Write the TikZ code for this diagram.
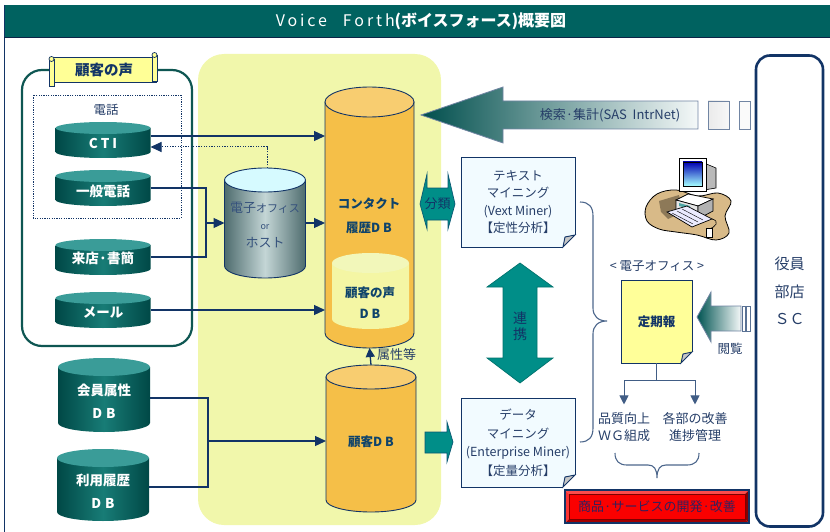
\documentclass[tikz,border=0pt]{standalone}
\usepackage{fontspec}
\setmainfont{Noto Sans CJK JP}
\newfontfamily\widelatin[LetterSpace=18]{Noto Sans CJK JP}
\usetikzlibrary{arrows.meta}

\newcommand\fs[2]{\fontsize{#1}{#2}\selectfont}

\definecolor{navy}{RGB}{18,52,102}
\definecolor{ink}{RGB}{38,62,104}
\definecolor{barteal}{RGB}{0,98,96}
\definecolor{drumdark}{RGB}{0,72,70}
\definecolor{drummid}{RGB}{24,124,118}
\definecolor{drumcap}{RGB}{58,156,152}
\definecolor{groupteal}{RGB}{14,86,82}
\definecolor{limebg}{RGB}{241,247,171}
\definecolor{amber}{RGB}{245,191,72}
\definecolor{ambercap}{RGB}{248,205,112}
\definecolor{cream}{RGB}{244,246,164}
\definecolor{creamcap}{RGB}{242,247,186}
\definecolor{slatedk}{RGB}{78,108,110}
\definecolor{slatelt}{RGB}{196,214,214}
\definecolor{icecap}{RGB}{214,250,255}
\definecolor{blockteal}{RGB}{0,142,136}
\definecolor{memo}{RGB}{242,251,255}
\definecolor{notepad}{RGB}{255,255,153}
\definecolor{scrollyel}{RGB}{255,255,150}
\definecolor{desk}{RGB}{216,186,136}
\definecolor{alertred}{RGB}{250,0,0}
\definecolor{alertink}{RGB}{52,32,92}

% cylinder: name, centre x, top y, width, height, cap half-height, body style, cap style
\newcommand\drum[8]{%
  \pgfmathsetmacro\dL{#2-#4/2}%
  \pgfmathsetmacro\dR{#2+#4/2}%
  \pgfmathsetmacro\dA{#4/2}%
  \pgfmathsetmacro\dT{#3+#6}%
  \pgfmathsetmacro\dB{#3+#5-#6}%
  \pgfmathsetmacro\dBot{#3+#5}%
  \pgfmathsetmacro\dK{0.5523*#6}%
  \pgfmathsetmacro\dKx{0.5523*#4/2}%
  \pgfmathsetmacro\dM{#3+#5/2}%
  \path[#7] (\dL,\dT) -- (\dL,\dB)
     .. controls (\dL,\dB+\dK) and (#2-\dKx,\dBot) .. (#2,\dBot)
     .. controls (#2+\dKx,\dBot) and (\dR,\dB+\dK) .. (\dR,\dB)
     -- (\dR,\dT) -- cycle;
  \path[#8] (#2,\dT) ellipse [x radius=\dA pt, y radius=#6pt];
  \node[inner sep=0pt, outer sep=0pt, minimum width=#4pt, minimum height=#5pt] (#1) at (#2,\dM) {};
}

% folded lower-right corner of a sheet node: node name, fold size
\newcommand\dogear[2]{%
  \fill[white] ([xshift=-#2pt]#1.south east) -- ([xshift=-#2pt,yshift=-1.5pt]#1.south east)
     -- ([xshift=1.5pt,yshift=-1.5pt]#1.south east) -- ([xshift=1.5pt,yshift=#2pt]#1.south east)
     -- ([yshift=#2pt]#1.south east) -- cycle;
  \draw[navy, line width=0.9pt, fill=gray!45] ([xshift=-#2pt]#1.south east) -- ([yshift=#2pt]#1.south east)
     -- ([xshift=-#2pt+2pt,yshift=#2pt-2pt]#1.south east) -- cycle;
}

\begin{document}
\begin{tikzpicture}[x=1pt, y=-1pt,
  wire/.style={draw=navy, line width=1.3pt},
  feed/.style={wire, -{Triangle[length=11pt,width=10pt]}},
  lbl/.style={text=ink, inner sep=0pt, outer sep=0pt, align=center},
  drumlbl/.style={lbl, text=white, font=\fs{13.5}{23}\bfseries},
  amberlbl/.style={lbl, text=navy!80!teal, font=\fs{12.5}{24}\bfseries},
  teal body/.style={left color=drumdark, right color=drumdark, middle color=drummid},
  teal cap/.style={fill=drumcap},
  amber body/.style={fill=amber, draw=navy, line width=0.9pt},
  amber cap/.style={fill=ambercap, draw=navy, line width=0.9pt},
  cream body/.style={fill=cream},
  cream cap/.style={fill=creamcap},
  office body/.style={left color=slatedk, right color=slatedk, middle color=slatelt, draw=navy, line width=0.9pt},
  office cap/.style={fill=icecap, draw=navy, line width=0.9pt},
  sheet/.style={rectangle, draw=navy, line width=0.9pt, inner sep=0pt, outer sep=0pt, align=center, text=ink},
  block/.style={fill=blockteal, draw=navy!60!blockteal, line width=0.7pt},
  fade/.style={draw=navy!60, line width=0.8pt, left color=barteal!80!black, middle color=barteal!35!white, right color=barteal!4!white},
]
\useasboundingbox (0,0) rectangle (830,532);

% ---- title bar and frame
\fill[barteal] (4,5) rectangle (830,38);
\draw[navy, line width=1pt] (4.5,5) -- (4.5,532);
\draw[navy!70!black, line width=1pt] (4,38) -- (830,38);
\node[text=white, inner sep=0pt] (title) at (421,21)
  {{\widelatin\fs{16}{18}Voice\quad Forth}{\fs{16}{18}\bfseries(ボイスフォース)概要図}};

% ---- database panel
\fill[limebg, rounded corners=26pt] (198,54) rectangle (441,525);

% ---- customer voice group
\draw[groupteal, line width=2.2pt, rounded corners=20pt] (22,70) rectangle (192,346);
\draw[navy, line width=0.9pt, dash pattern=on 1.2pt off 1.2pt] (33,95) rectangle (181,218);
\node[lbl, font=\fs{12.5}{14}] (tel) at (106,110) {電話};
\path[fill=scrollyel, draw=navy, line width=0.9pt] (53,57) rectangle (156,82);
\path[fill=scrollyel, draw=navy, line width=0.9pt] (49,59) rectangle (54,86);
\path[fill=scrollyel, draw=navy, line width=0.9pt] (152,55) rectangle (157,81);
\path[fill=scrollyel, draw=navy, line width=0.7pt] (51.5,59) circle[radius=2.5pt];
\path[fill=scrollyel, draw=navy, line width=0.7pt] (154.5,55) circle[radius=2.5pt];
\node[lbl, text=navy, font=\fs{14.5}{16}\bfseries] (voice) at (104,70) {顧客の声};

% ---- source cylinders
\drum{cti}{103}{122}{95}{36}{6}{teal body}{teal cap}
\drum{phone}{103}{170}{95}{36}{6}{teal body}{teal cap}
\drum{visit}{103}{239}{95}{36}{6}{teal body}{teal cap}
\drum{mail}{103}{292}{95}{36}{6}{teal body}{teal cap}
\drum{member}{104}{358}{92}{74}{9}{teal body}{teal cap}
\drum{usage}{103}{449}{92}{72}{9}{teal body}{teal cap}
\node[drumlbl] (cti-t) at (103,143) {C\kern3pt T\kern3pt I};
\node[drumlbl] (phone-t) at (103,191) {一般電話};
\node[drumlbl] (visit-t) at (103,258) {来店·書簡};
\node[drumlbl] (mail-t) at (103,312) {メール};
\node[drumlbl] (member-t) at (104,401) {会員属性\\D\kern4pt B};
\node[drumlbl] (usage-t) at (103,491) {利用履歴\\D\kern4pt B};

% ---- central stores
\drum{contact}{369.5}{87}{89}{261}{15}{amber body}{amber cap}
\drum{vocdb}{370.5}{253}{77}{76}{10}{cream body}{cream cap}
\drum{custdb}{371}{365}{90}{147}{12}{amber body}{amber cap}
\drum{office}{265}{168}{81}{110}{12}{office body}{office cap}
\node[amberlbl] (contact-t) at (369,216) {コンタクト\\履歴D\kern3pt B};
\node[amberlbl, font=\fs{12.5}{21}\bfseries] (vocdb-t) at (370,303) {顧客の声\\D\kern3pt B};
\node[amberlbl] (custdb-t) at (371,442) {顧客D\kern3pt B};
\node[lbl, text=navy!85, font=\fs{13}{17.5}] (office-t) at (265,225)
  {電子{\fs{11}{12}オフィス}\\{\fs{9}{10}or}\\ホスト};

% ---- feeds
\coordinate (ctiR) at ([yshift=4pt]cti.east);
\draw[feed] (ctiR) -- (ctiR -| contact.west);
\coordinate (ctiL) at ([yshift=-7pt]cti.east);
\draw[draw=navy, line width=1pt, dash pattern=on 1.3pt off 1.3pt, -{Triangle[length=11pt,width=10pt]}]
  ([xshift=2pt]office.north) |- (ctiL);
\coordinate (hub1) at (206,223);
\draw[wire] (phone.east) -| (hub1) |- (visit.east);
\draw[feed] (hub1) -- (office.west);
\draw[feed] (office.east) -- (office.east -| contact.west);
\draw[feed] (mail.east) -- (mail.east -| contact.west);
\coordinate (hub2) at (208,441);
\draw[wire] ([yshift=-3pt]member.east) -| (hub2) |- ([yshift=-2pt]usage.east);
\draw[feed] (hub2) -- (hub2 -| custdb.west);
\draw[wire, -{Triangle[length=9pt,width=9pt]}] (custdb.north) -- (contact.south);
\node[lbl, anchor=west, font=\fs{13}{14}] (attr) at (377,355) {属性等};

% ---- query arrow from the users
\path[fade] (421,115) -- (503,87) -- (503,101) -- (698,101) -- (698,129) -- (503,129) -- (503,143) -- cycle;
\path[draw=navy!60, line width=0.8pt, left color=gray!16, right color=gray!6] (708,101) rectangle (729,129);
\path[draw=navy!60, line width=0.8pt, fill=gray!4] (739,101) rectangle (750,129);
\node[lbl, font=\fs{13}{14}] (query) at (610,115) {検索·集計(SAS\ \ IntrNet)};

% ---- classification arrow
\path[block] (420,204) -- (427,174) -- (427,188) -- (448,188) -- (448,174) -- (455,204)
  -- (448,229) -- (448,220) -- (427,220) -- (427,229) -- cycle;
\node[lbl, text=navy, font=\fs{13}{14}] (classify) at (437.5,204) {分類};

% ---- mining sheets
\node[sheet, fill=memo, minimum width=114pt, minimum height=90pt, font=\fs{12.5}{17.5}] (tm) at (518,202)
  {テキスト\\マイニング\\(Vext Miner)\\【定性分析】};
\dogear{tm}{12}
\node[sheet, fill=memo, minimum width=114pt, minimum height=89pt, font=\fs{12.5}{18.5}] (dm) at (518,442.5)
  {データ\\マイニング\\(Enterprise Miner)\\【定量分析】};
\dogear{dm}{12}

% ---- link arrow between the two minings
\path[block, draw=blockteal!80!black] (520,263) -- (553,287) -- (537,287) -- (537,358) -- (553,358) -- (520,383)
  -- (487,358) -- (503,358) -- (503,287) -- (487,287) -- cycle;
\node[lbl, text=navy, font=\fs{14}{16}] (link) at (520,326) {連\\携};

% ---- customer DB to data mining
\path[block] (425,432) -- (447,432) -- (447,422) -- (453,442) -- (447,462) -- (447,453) -- (425,453) -- cycle;

% ---- brace gathering both analyses
\draw[navy!75, line width=1.1pt]
  (580,202) .. controls (589,202) and (593,207) .. (593,216) -- (593,308)
  .. controls (593,316) and (598,321) .. (607,321)
  .. controls (598,321) and (593,326) .. (593,334) -- (593,428)
  .. controls (593,437) and (589,442) .. (580,442);

% ---- workstation
\path[fill=desk, draw=black, line width=0.8pt] plot[smooth cycle, tension=0.6] coordinates
  {(646,207) (657,194) (676,190) (698,196) (718,193) (731,201) (725,216) (729,233) (716,240) (697,235) (676,232) (659,229) (647,221)};
\fill[desk!65!black] (659,201) -- (679,195) -- (683,212) -- (668,219) -- (661,212) -- cycle;
\path[fill=gray!55, draw=black, line width=0.6pt] (704,163) -- (716,168) -- (716,188) -- (704,190) -- cycle;
\path[fill=white, draw=black, line width=0.7pt] (676,200) -- (688,194) -- (713,199) -- (698,206) -- cycle;
\path[fill=gray!20, draw=black, line width=0.7pt] (676,200) -- (698,206) -- (698,219) -- (676,212) -- cycle;
\path[fill=gray!60, draw=black, line width=0.7pt] (698,206) -- (713,199) -- (713,211) -- (698,219) -- cycle;
\fill[teal!70] (679,203) -- (690,206) -- (690,209) -- (679,206) -- cycle;
\path[fill=white, draw=black, line width=0.8pt] (679,158) rectangle (706,191);
\path[top color=blue!70!black, bottom color=cyan!35, draw=black, line width=0.5pt] (683,162) rectangle (702,186);
\path[fill=blue!8, draw=black, line width=0.7pt] (667,212) -- (687,206) -- (712,219) -- (692,227) -- cycle;
\draw[black, line width=0.4pt] (672,213) -- (693,224) (677,211) -- (698,222) (682,209) -- (703,220);
\draw[black, line width=0.6pt] (712,219) .. controls (720,221) and (716,227) .. (709,229);
\path[fill=white, draw=black, line width=0.6pt] (706,228) rectangle (712,237);

% ---- report in the e-office
\node[lbl, font=\fs{12.5}{14}] (eoffice) at (657,266) {< 電子オフィス >};
\node[sheet, fill=notepad, minimum width=71pt, minimum height=83pt, text=navy, font=\fs{12.5}{14}\bfseries] (report) at (656.5,321.5) {定期報};
\dogear{report}{11}

% ---- browse arrow
\path[fade, left color=barteal!85!black] (697,317) -- (711,292) -- (711,306) -- (741,306) -- (741,331) -- (711,331) -- (711,342) -- cycle;
\path[draw=navy!70, line width=0.7pt, fill=white] (742,306) rectangle (745,331);
\path[draw=navy!70, line width=0.7pt, fill=white] (746.5,306) rectangle (750,331);
\node[lbl, font=\fs{12.5}{14}] (view) at (730,349) {閲覧};

% ---- follow-up actions
\coordinate (fork) at (656.5,380);
\node[lbl, font=\fs{13}{17}] (wg) at (624,427) {品質向上\\ＷＧ組成};
\node[lbl, font=\fs{13}{17}] (prog) at (695,427) {各部の改善\\進捗管理};
\draw[navy!80, line width=1pt] (report.south) -- (fork);
\draw[navy!80, line width=1pt, -{Triangle[length=9pt,width=9pt]}, shorten >=8pt] (fork) -| (wg.north);
\draw[navy!80, line width=1pt, -{Triangle[length=9pt,width=9pt]}, shorten >=8pt] (fork) -| (prog.north);
\draw[navy!75, line width=1.1pt]
  (615,453) .. controls (615,461) and (619,465) .. (627,465) -- (648,465)
  .. controls (654,465) and (657,469) .. (657,478)
  .. controls (657,469) and (660,465) .. (666,465) -- (687,465)
  .. controls (695,465) and (699,461) .. (699,453);

% ---- outcome box
\fill[alertred!70!white] (565,490) -- (749,490) -- (745,494) -- (569,494) -- cycle;
\fill[alertred!80!white] (565,490) -- (569,494) -- (569,519) -- (565,523) -- cycle;
\fill[alertred!65!black] (565,523) -- (569,519) -- (745,519) -- (749,523) -- cycle;
\fill[alertred!55!black] (749,490) -- (749,523) -- (745,519) -- (745,494) -- cycle;
\path[fill=alertred, draw=alertred!50!black, line width=0.5pt] (569,494) rectangle (745,519);
\draw[navy, line width=1.2pt] (565,490) rectangle (749,523);
\node[lbl, text=alertink, font=\fs{13}{15}] (goal) at (657,506.5) {商品·サービスの開発·改善};

% ---- management panel
\node[draw=navy, line width=2.6pt, rounded corners=14pt, fill=white, minimum width=67pt, minimum height=471pt,
  inner sep=0pt, align=center, text=ink, font=\fs{15}{27.5}] (exec) at (789.5,291) {役員\\部店\\ＳＣ};
\end{tikzpicture}
\end{document}
